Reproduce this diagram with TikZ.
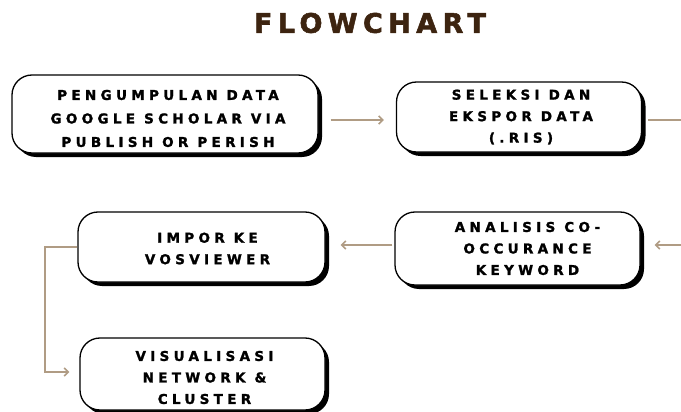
\documentclass[tikz,border=0pt]{standalone}
\usepackage{fontspec}
\setmainfont{DejaVu Sans}
\newfontfamily\boxfont{DejaVu Sans}[LetterSpace=32, BoldFeatures={FakeBold=1.6}]
\newfontfamily\titlefont{DejaVu Sans}[LetterSpace=20, BoldFeatures={FakeBold=2}]
\usetikzlibrary{arrows.meta,shadows,calc}
\definecolor{tan}{HTML}{B09C84}
\definecolor{darkbrown}{HTML}{3D2410}
\tikzset{
  box/.style={draw=black, line width=1.3pt, fill=white, rounded corners=20pt,
    inner sep=0pt,
    drop shadow={shadow xshift=4pt, shadow yshift=-4pt, opacity=1, fill=black}},
  txt/.style={inner sep=0pt, align=center,
    font=\boxfont\bfseries\fontsize{13.5}{21.5}\selectfont},
  conn/.style={draw=tan, line width=1.6pt},
  arr/.style={conn, -{Straight Barb[length=4pt,width=8pt,line width=1.6pt]}}
}
\begin{document}
\begin{tikzpicture}[x=1pt,y=-1pt]
\useasboundingbox (0,0) rectangle (681,412);
\node[font=\titlefont\bfseries\fontsize{27}{30}\selectfont, text=darkbrown] (title) at (370,23) {FLOWCHART};
\node[box, minimum width=306pt, minimum height=78pt] (b1) at (165,114) {};
\node[box, minimum width=245pt, minimum height=70pt] (b2) at (519,117) {};
\node[box, minimum width=247pt, minimum height=70pt] (b3) at (201.5,247) {};
\node[box, minimum width=245pt, minimum height=73pt] (b4) at (517.5,248.5) {};
\node[box, minimum width=245pt, minimum height=72pt] (b5) at (202.5,374) {};
\node[txt, font=\boxfont\bfseries\fontsize{13.5}{23.5}\selectfont] (t1) at ($(b1)+(3,4.5)$) {PENGUMPULAN DATA\\GOOGLE SCHOLAR VIA\\PUBLISH OR PERISH};
\node[txt] (t2) at ($(b2)+(2,0)$) {SELEKSI DAN\\EKSPOR DATA\\(.RIS)};
\node[txt] (t3) at ($(b3)+(6,1.5)$) {IMPOR KE\\VOSVIEWER};
\node[txt] (t4) at ($(b4)+(10,0)$) {ANALISIS CO-\\OCCURANCE\\KEYWORD};
\node[txt] (t5) at ($(b5)+(2,3.5)$) {VISUALISASI\\NETWORK \&\\CLUSTER};
\coordinate (outR) at (681,120);
\coordinate (inR) at (681,245);
\coordinate (lcol) at (45,0);
\draw[arr] ($(b1.east)+(12,6)$) -- ($(b2.west)+(-12,3)$);
\draw[conn] ($(b2.east)+(6,3)$) -- (outR);
\draw[arr] (inR) -- ($(b4.east)+(14,-3.5)$);
\draw[arr] ($(b4.west)+(-2,-3.5)$) -- ($(b3.east)+(15,-2)$);
\draw[arr] (b3.west) -- (b3.west -| lcol) |- ($(b5.west)+(-10,-2)$);
\end{tikzpicture}
\end{document}
